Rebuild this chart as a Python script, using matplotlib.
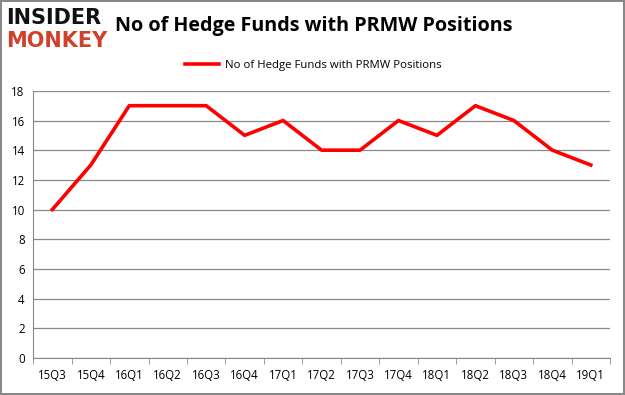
import matplotlib.pyplot as plt

# data
quarters = ['15Q3', '15Q4', '16Q1', '16Q2', '16Q3', '16Q4', '17Q1', '17Q2',
            '17Q3', '17Q4', '18Q1', '18Q2', '18Q3', '18Q4', '19Q1']
num_funds = [10, 13, 17, 17, 17, 15, 16, 14, 14, 16, 15, 17, 16, 14, 13]

plt.rcParams['font.family'] = ['Open Sans', 'DejaVu Sans']

fig = plt.figure(figsize=(6.25, 3.95), dpi=100)
fig.patch.set_edgecolor('#888888')
fig.patch.set_linewidth(1.5)

ax = fig.add_axes([0.053, 0.094, 0.923, 0.676])
x = list(range(len(quarters)))
ax.plot(x, num_funds, color='#ff0000', linewidth=2.6,
        label='No of Hedge Funds with PRMW Positions')

ax.set_xlim(-0.5, len(quarters) - 0.5)
ax.set_ylim(0, 18)
ax.set_yticks(range(0, 19, 2))
ax.set_xticks(x)
ax.set_xticklabels(quarters)
ax.tick_params(axis='both', labelsize=8.3, colors='#000000', length=0, pad=6)
ax.grid(axis='y', color='#888888', linewidth=0.9)
ax.set_axisbelow(True)
for s in ['top', 'right']:
    ax.spines[s].set_visible(False)
ax.spines['left'].set_color('#888888')
ax.spines['bottom'].set_color('#888888')

# tick marks between categories on x axis
ax.set_xticks([i - 0.5 for i in range(len(quarters) + 1)], minor=True)
ax.tick_params(axis='x', which='minor', length=4, color='#888888')
ax.tick_params(axis='x', which='major', length=0, pad=8)

ax.legend(loc='center', bbox_to_anchor=(0.485, 1.095), frameon=False,
          fontsize=8.2, handlelength=3.0, handletextpad=0.5)

fig.text(0.184, 0.935, 'No of Hedge Funds with PRMW Positions', fontsize=14.2,
         fontweight='bold', va='center', ha='left')

# logo
fig.text(0.010, 0.955, 'INSIDER', fontsize=15, fontweight='heavy',
         color='#111111', va='center', ha='left', family='DejaVu Sans')
fig.text(0.010, 0.895, 'MONKEY', fontsize=15, fontweight='heavy',
         color='#d0412b', va='center', ha='left', family='DejaVu Sans')

fig.savefig('out.png', dpi=100)
